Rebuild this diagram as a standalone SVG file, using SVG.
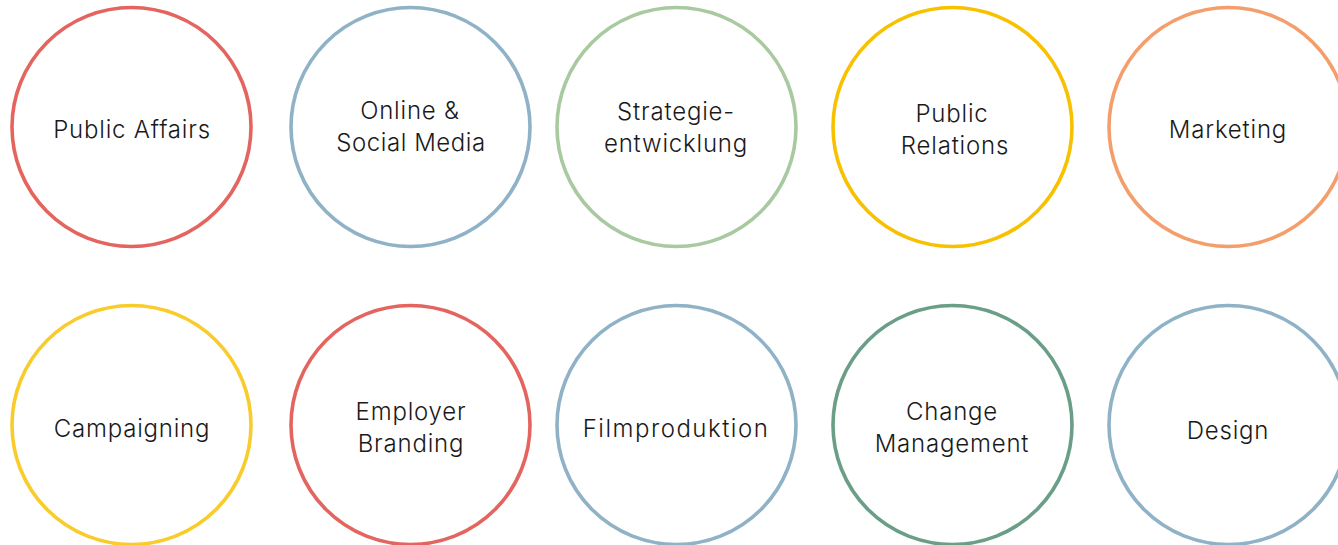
<svg xmlns="http://www.w3.org/2000/svg" width="1338" height="545" viewBox="0 0 1338 545">
<style>
circle{fill:#fff;stroke-width:3.6}
text{font-family:Inter,"Liberation Sans",sans-serif;font-weight:300;font-size:24px;fill:#1a1a1a;text-anchor:middle;letter-spacing:0.8px}
</style>
<rect width="1338" height="545" fill="#fff"/>
<g id="connectors"/>
<g id="n1"><circle cx="131.5" cy="127" r="119.5" stroke="#e4645f"/><text x="132" y="138">Public Affairs</text></g>
<g id="n2"><circle cx="410.5" cy="127" r="119.5" stroke="#8fb2c6"/><text x="410" y="119">Online &amp;</text><text x="411" y="151" style="letter-spacing:0.55px">Social Media</text></g>
<g id="n3"><circle cx="676.5" cy="127" r="119.5" stroke="#a9c9a0"/><text x="676" y="120">Strategie-</text><text x="676" y="152">entwicklung</text></g>
<g id="n4"><circle cx="952.5" cy="127" r="119.5" stroke="#f8c100"/><text x="952" y="122">Public</text><text x="955" y="154">Relations</text></g>
<g id="n5"><circle cx="1228.5" cy="127" r="119.5" stroke="#f49e6c"/><text x="1228" y="138">Marketing</text></g>
<g id="n6"><circle cx="131.5" cy="425" r="119.5" stroke="#f9cc2c"/><text x="132" y="437">Campaigning</text></g>
<g id="n7"><circle cx="410.5" cy="425" r="119.5" stroke="#e4645f"/><text x="411" y="420">Employer</text><text x="411" y="452">Branding</text></g>
<g id="n8"><circle cx="676.5" cy="425" r="119.5" stroke="#8fb2c6"/><text x="676" y="437" style="letter-spacing:1.5px">Filmproduktion</text></g>
<g id="n9"><circle cx="952.5" cy="425" r="119.5" stroke="#6a9e87"/><text x="952" y="420">Change</text><text x="952" y="452">Management</text></g>
<g id="n10"><circle cx="1228.5" cy="425" r="119.5" stroke="#8fb2c6"/><text x="1228" y="439">Design</text></g>
</svg>
